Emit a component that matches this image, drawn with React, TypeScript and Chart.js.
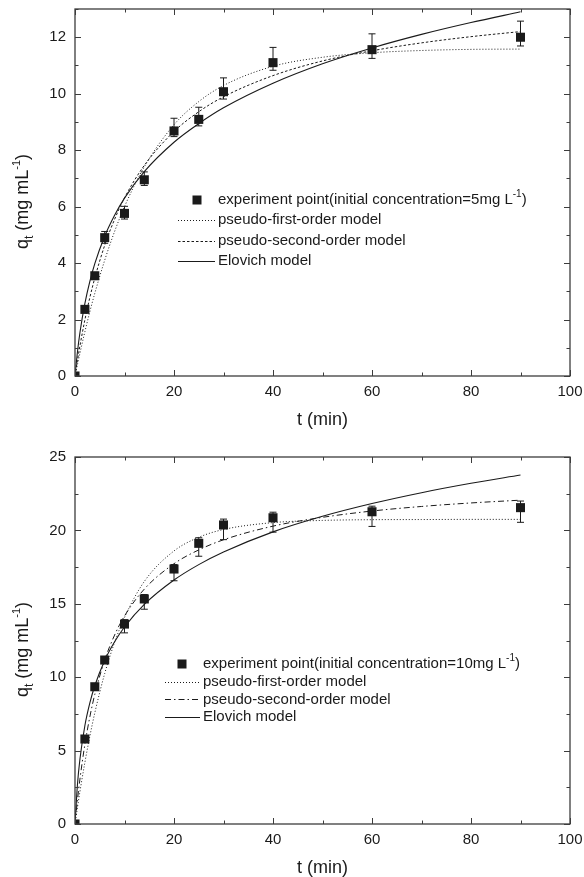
import { useEffect, useRef } from "react";
import { Chart, registerables } from "chart.js";

Chart.register(...registerables);

const FONT = '"Liberation Sans", Arial, Helvetica, sans-serif';
const INK = "#1a1a1a";

// Sampling times for the fitted kinetic model curves (min)
const tModel = [0, 0.5, 1, 2, 3, 4, 6, 8, 10, 14, 20, 25, 30, 40, 50, 60, 70, 80, 90];

// Measured times (min)
const tExp = [0, 2, 4, 6, 10, 14, 20, 25, 30, 40, 60, 90];

// Initial concentration 5 mg/L
const qExp5 = [0, 2.36, 3.55, 4.9, 5.76, 6.95, 8.68, 9.09, 10.07, 11.1, 11.56, 12.0];
const errUp5 = [0, 0.08, 0.12, 0.22, 0.25, 0.28, 0.45, 0.43, 0.49, 0.54, 0.56, 0.57];
const errDown5 = [0, 0.08, 0.12, 0.2, 0.2, 0.2, 0.2, 0.23, 0.26, 0.27, 0.31, 0.31];
const pfo5 = [0, 0.41, 0.81, 1.57, 2.28, 2.93, 4.1, 5.12, 6.0, 7.41, 8.9, 9.72, 10.29, 10.97, 11.29, 11.45, 11.53, 11.57, 11.58];
const pso5 = [0, 0.56, 1.07, 1.99, 2.78, 3.47, 4.63, 5.55, 6.31, 7.46, 8.66, 9.36, 9.89, 10.64, 11.16, 11.52, 11.8, 12.02, 12.2];
const elovich5 = [0, 0.86, 1.54, 2.57, 3.35, 3.98, 4.95, 5.69, 6.3, 7.24, 8.28, 8.94, 9.5, 10.37, 11.06, 11.62, 12.1, 12.52, 12.9];

// Initial concentration 10 mg/L
const qExp10 = [0, 5.79, 9.35, 11.17, 13.62, 15.33, 17.37, 19.12, 20.37, 20.86, 21.27, 21.55];
const errUp10 = [0, 0.2, 0.2, 0.2, 0.3, 0.3, 0.3, 0.38, 0.4, 0.38, 0.38, 0.45];
const errDown10 = [0, 0.2, 0.2, 0.2, 0.6, 0.7, 0.8, 0.88, 1.0, 0.98, 1.0, 1.0];
const pfo10 = [0, 1.14, 2.22, 4.2, 5.98, 7.57, 10.25, 12.37, 14.07, 16.52, 18.6, 19.53, 20.06, 20.53, 20.68, 20.73, 20.74, 20.75, 20.75];
const pso10 = [0, 1.64, 3.06, 5.43, 7.3, 8.83, 11.17, 12.87, 14.17, 16.0, 17.73, 18.67, 19.36, 20.29, 20.89, 21.32, 21.63, 21.87, 22.06];
const elovich10 = [0, 2.71, 4.43, 6.71, 8.25, 9.42, 11.14, 12.41, 13.42, 14.96, 16.62, 17.67, 18.53, 19.9, 20.96, 21.83, 22.57, 23.21, 23.77];

const xTicks = [0, 20, 40, 60, 80, 100];
const yTicks5 = [0, 2, 4, 6, 8, 10, 12];
const yTicks10 = [0, 5, 10, 15, 20, 25];

const LEGEND_LABELS = ["pseudo-first-order model", "pseudo-second-order model", "Elovich model"];

type PanelCfg = {
  height: number;
  padTop: number;
  xAxisHeight: number;
  yMax: number;
  yTicks: number[];
  yMinorStep: number;
  qExp: number[];
  errUp: number[];
  errDown: number[];
  pfo: number[];
  pso: number[];
  elovich: number[];
  psoDash: number[];
  concLabel: string;
  legend: { markerX: number; lineX0: number; lineX1: number; textX: number; y0: number; dy: number };
};

const pts = (xs: number[], ys: number[]) => xs.map((x, i) => ({ x, y: ys[i] }));

function drawSupText(ctx: CanvasRenderingContext2D, parts: { t: string; size: number; dy: number }[], x: number, y: number) {
  let cx = x;
  for (const p of parts) {
    ctx.font = `${p.size}px ${FONT}`;
    ctx.fillText(p.t, cx, y + p.dy);
    cx += ctx.measureText(p.t).width;
  }
}

function partsWidth(ctx: CanvasRenderingContext2D, parts: { t: string; size: number; dy: number }[]) {
  let w = 0;
  for (const p of parts) {
    ctx.font = `${p.size}px ${FONT}`;
    w += ctx.measureText(p.t).width;
  }
  return w;
}

function makeDecor(cfg: PanelCfg) {
  return {
    id: "panelDecor",
    beforeDatasetsDraw(chart: any) {
      // error bars for the measured points
      const { ctx, scales } = chart;
      const xs = scales.x;
      const ys = scales.y;
      ctx.save();
      ctx.strokeStyle = INK;
      ctx.lineWidth = 1;
      tExp.forEach((t, i) => {
        if (cfg.errUp[i] === 0 && cfg.errDown[i] === 0) return;
        const px = xs.getPixelForValue(t);
        const hi = ys.getPixelForValue(cfg.qExp[i] + cfg.errUp[i]);
        const lo = ys.getPixelForValue(cfg.qExp[i] - cfg.errDown[i]);
        ctx.beginPath();
        ctx.moveTo(px, hi);
        ctx.lineTo(px, lo);
        ctx.moveTo(px - 3.5, hi);
        ctx.lineTo(px + 3.5, hi);
        ctx.moveTo(px - 3.5, lo);
        ctx.lineTo(px + 3.5, lo);
        ctx.stroke();
      });
      ctx.restore();
    },
    afterDraw(chart: any) {
      const { ctx, chartArea: a, scales } = chart;
      const xs = scales.x;
      const ys = scales.y;
      ctx.save();
      // frame
      ctx.strokeStyle = "#3c3c3c";
      ctx.lineWidth = 1.3;
      ctx.strokeRect(a.left, a.top, a.right - a.left, a.bottom - a.top);
      // inward ticks on all four sides
      ctx.lineWidth = 1;
      ctx.beginPath();
      for (let v = 0; v <= 100; v += 10) {
        const px = Math.round(xs.getPixelForValue(v)) + 0.5;
        const len = v % 20 === 0 ? 6 : 3.5;
        ctx.moveTo(px, a.bottom);
        ctx.lineTo(px, a.bottom - len);
        ctx.moveTo(px, a.top);
        ctx.lineTo(px, a.top + len);
      }
      const major = cfg.yTicks[1] - cfg.yTicks[0];
      for (let v = 0; v <= cfg.yMax + 1e-9; v += cfg.yMinorStep) {
        const py = Math.round(ys.getPixelForValue(v)) + 0.5;
        const isMajor = Math.abs(v / major - Math.round(v / major)) < 1e-6;
        const len = isMajor ? 6 : 3.5;
        ctx.moveTo(a.left, py);
        ctx.lineTo(a.left + len, py);
        ctx.moveTo(a.right, py);
        ctx.lineTo(a.right - len, py);
      }
      ctx.stroke();

      // axis titles
      ctx.fillStyle = INK;
      ctx.textBaseline = "alphabetic";
      ctx.font = `18px ${FONT}`;
      ctx.textAlign = "center";
      ctx.fillText("t (min)", (a.left + a.right) / 2, a.bottom + 49);
      ctx.textAlign = "left";

      const yParts = [
        { t: "q", size: 18, dy: 0 },
        { t: "t", size: 12, dy: 5 },
        { t: " (mg mL", size: 18, dy: 0 },
        { t: "-1", size: 11, dy: -8 },
        { t: ")", size: 18, dy: 0 },
      ];
      const yw = partsWidth(ctx, yParts);
      ctx.save();
      ctx.translate(31, (a.top + a.bottom) / 2 + 9);
      ctx.rotate(-Math.PI / 2);
      drawSupText(ctx, yParts, -yw / 2, -3);
      ctx.restore();

      // legend
      const L = cfg.legend;
      ctx.textBaseline = "middle";
      ctx.fillStyle = INK;
      ctx.fillRect(L.markerX - 4.5, L.y0 - 4.5, 9, 9);
      drawSupText(
        ctx,
        [
          { t: `experiment point(initial concentration=${cfg.concLabel}mg L`, size: 15, dy: 0 },
          { t: "-1", size: 10, dy: -6 },
          { t: ")", size: 15, dy: 0 },
        ],
        L.textX,
        L.y0
      );
      const dashes = [[1, 2], cfg.psoDash, []];
      LEGEND_LABELS.forEach((lab, i) => {
        const y = L.y0 + L.dy * (i + 1);
        ctx.strokeStyle = INK;
        ctx.lineWidth = 1;
        ctx.setLineDash(dashes[i]);
        ctx.beginPath();
        ctx.moveTo(L.lineX0, Math.round(y) + 0.5);
        ctx.lineTo(L.lineX1, Math.round(y) + 0.5);
        ctx.stroke();
        ctx.setLineDash([]);
        ctx.font = `15px ${FONT}`;
        ctx.fillText(lab, L.textX, y);
      });
      ctx.restore();
    },
  };
}

function Panel({ cfg }: { cfg: PanelCfg }) {
  const ref = useRef<HTMLCanvasElement | null>(null);
  useEffect(() => {
    if (!ref.current) return;
    const lineDs = (data: number[], dash: number[], width: number) => ({
      type: "line" as const,
      data: pts(tModel, data),
      borderColor: INK,
      borderWidth: width,
      borderDash: dash,
      pointRadius: 0,
      fill: false,
      showLine: true,
      cubicInterpolationMode: "monotone" as const,
    });
    // the plot area is placed by layout padding alone
    const noOverflow = (s: any) => {
      s.paddingTop = 0;
      s.paddingBottom = 0;
      s.paddingLeft = 0;
      s.paddingRight = 0;
    };
    const chart = new Chart(ref.current, {
      type: "scatter",
      data: {
        datasets: [
          lineDs(cfg.pfo, [1, 2], 1),
          lineDs(cfg.pso, cfg.psoDash, 1),
          lineDs(cfg.elovich, [], 1.1),
          {
            type: "scatter",
            data: pts(tExp, cfg.qExp),
            pointStyle: "rect",
            pointRadius: 6.4,
            pointBackgroundColor: INK,
            pointBorderColor: INK,
            pointBorderWidth: 0,
            showLine: false,
          } as any,
        ],
      },
      options: {
        responsive: false,
        animation: false,
        devicePixelRatio: 1,
        layout: { padding: { left: 0, right: 14, top: cfg.padTop, bottom: 0 } },
        plugins: { legend: { display: false }, tooltip: { enabled: false } },
        scales: {
          x: {
            type: "linear",
            min: 0,
            max: 100,
            grid: { display: false, drawTicks: false },
            border: { display: false },
            afterBuildTicks: (s: any) => {
              s.ticks = xTicks.map((v) => ({ value: v }));
            },
            afterFit: (s: any) => {
              s.height = cfg.xAxisHeight;
              noOverflow(s);
            },
            ticks: { color: INK, font: { family: FONT, size: 15 }, padding: 7, maxRotation: 0 },
          },
          y: {
            type: "linear",
            min: 0,
            max: cfg.yMax,
            grid: { display: false, drawTicks: false },
            border: { display: false },
            afterBuildTicks: (s: any) => {
              s.ticks = cfg.yTicks.map((v) => ({ value: v }));
            },
            afterFit: (s: any) => {
              s.width = 75;
              noOverflow(s);
            },
            ticks: { color: INK, font: { family: FONT, size: 15 }, padding: 9 },
          },
        },
      },
      plugins: [makeDecor(cfg)],
    });
    return () => chart.destroy();
  }, [cfg]);
  return <canvas ref={ref} width={584} height={cfg.height} style={{ display: "block", width: 584, height: cfg.height }} />;
}

const topCfg: PanelCfg = {
  height: 440,
  padTop: 9,
  xAxisHeight: 440 - 376,
  yMax: 13,
  yTicks: yTicks5,
  yMinorStep: 1,
  qExp: qExp5,
  errUp: errUp5,
  errDown: errDown5,
  pfo: pfo5,
  pso: pso5,
  elovich: elovich5,
  psoDash: [2.5, 2],
  concLabel: "5",
  legend: { markerX: 197, lineX0: 178, lineX1: 215, textX: 218, y0: 200, dy: 20.3 },
};

const bottomCfg: PanelCfg = {
  height: 437,
  padTop: 17,
  xAxisHeight: 437 - 384,
  yMax: 25,
  yTicks: yTicks10,
  yMinorStep: 2.5,
  qExp: qExp10,
  errUp: errUp10,
  errDown: errDown10,
  pfo: pfo10,
  pso: pso10,
  elovich: elovich10,
  psoDash: [6, 3, 1.5, 3],
  concLabel: "10",
  legend: { markerX: 182, lineX0: 165, lineX1: 200, textX: 203, y0: 224, dy: 17.7 },
};

export default function App() {
  return (
    <div style={{ position: "absolute", left: 0, top: 0, width: 584, height: 877, background: "#fff" }}>
      <Panel cfg={topCfg} />
      <Panel cfg={bottomCfg} />
    </div>
  );
}
